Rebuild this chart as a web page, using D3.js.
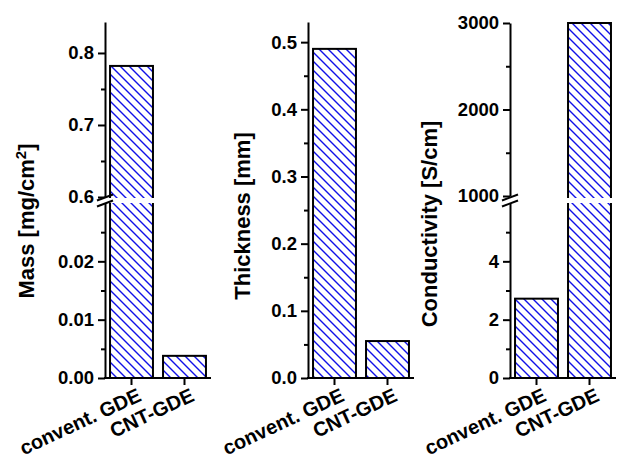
<!DOCTYPE html>
<html>
<head>
<meta charset="utf-8">
<script src="https://cdn.jsdelivr.net/npm/d3@7"></script>
<style>
  body { margin: 0; background: #fff; }
  svg { display: block; }
  text { font-family: "Liberation Sans", Arial, sans-serif; font-weight: bold; fill: #000; }
</style>
</head>
<body>
<div id="chart"></div>
<script>
// categories and values
var categories = ["convent. GDE", "CNT-GDE"];
var massValues = [0.782, 0.0038];
var thicknessValues = [0.49, 0.055];
var conductivityValues = [2.72, 3000];

// tick labels per axis segment
var massTicksLow = [0, 0.01, 0.02];
var massMinorLow = [0.005, 0.015, 0.025];
var massTicksHigh = [0.6, 0.7, 0.8];
var massMinorHigh = [0.65, 0.75];
var thickTicks = [0, 0.1, 0.2, 0.3, 0.4, 0.5];
var thickMinor = [0.05, 0.15, 0.25, 0.35, 0.45];
var condTicksLow = [0, 2, 4];
var condMinorLow = [1, 3, 5];
var condTicksHigh = [1000, 2000, 3000];
var condMinorHigh = [1500, 2500];

var W = 617, H = 460, baseY = 378, breakTop = 198, breakBot = 203;

var svg = d3.select("#chart").append("svg")
    .attr("width", W).attr("height", H);

var defs = svg.append("defs");
var pat = defs.append("pattern")
    .attr("id", "hatch")
    .attr("patternUnits", "userSpaceOnUse")
    .attr("width", 9).attr("height", 9);
pat.append("rect").attr("width", 9).attr("height", 9).attr("fill", "#fff");
pat.append("path")
    .attr("d", "M0,0 L9,9 M-2,7 L2,11 M7,-2 L11,2")
    .attr("stroke", "#1010e8")
    .attr("stroke-width", 1.4);

function drawPanel(p){
    var g = svg.append("g");

    var x = d3.scaleBand()
        .domain(categories)
        .range([p.axisX, p.axisX + 106])
        .paddingInner(0.19)
        .paddingOuter(0.095);

    // build a linear scale for every segment of the (possibly broken) axis
    p.segments.forEach(function(s){
        s.scale = d3.scaleLinear().domain(s.domain).range(s.range);
    });

    function segFor(v){
        var seg = p.segments[0];
        p.segments.forEach(function(s){ if (v >= s.domain[0]) seg = s; });
        return seg;
    }

    // bars
    p.values.forEach(function(v, i){
        var seg = segFor(v);
        var y = seg.scale(v);
        g.append("rect")
            .attr("x", x(categories[i]))
            .attr("y", y)
            .attr("width", x.bandwidth())
            .attr("height", baseY - y)
            .attr("fill", "url(#hatch)")
            .attr("stroke", "#000")
            .attr("stroke-width", 2);
        if (seg !== p.segments[0]){
            g.append("rect")
                .attr("x", x(categories[i]) - 2)
                .attr("y", breakTop)
                .attr("width", x.bandwidth() + 4)
                .attr("height", breakBot - breakTop)
                .attr("fill", "#fff");
        }
    });

    // y axis segments
    p.segments.forEach(function(s){
        var major = d3.axisLeft(s.scale)
            .tickValues(s.ticks)
            .tickSize(7)
            .tickSizeOuter(0)
            .tickPadding(4)
            .tickFormat(d3.format(s.fmt));
        var ga = g.append("g")
            .attr("transform", "translate(" + p.axisX + ",0)")
            .call(major);
        ga.selectAll("text").style("font-size", "18.5px").style("font-family", null);
        ga.selectAll("line").attr("stroke-width", 2);
        ga.select(".domain").attr("stroke-width", 2);

        var minor = d3.axisLeft(s.scale)
            .tickValues(s.minor)
            .tickSize(4)
            .tickSizeOuter(0)
            .tickFormat("");
        var gm = g.append("g")
            .attr("transform", "translate(" + p.axisX + ",0)")
            .call(minor);
        gm.selectAll("line").attr("stroke-width", 2);
        gm.select(".domain").remove();
    });

    // axis break marks
    if (p.segments.length > 1){
        g.append("rect")
            .attr("x", p.axisX - 3).attr("y", breakTop)
            .attr("width", 6).attr("height", breakBot - breakTop)
            .attr("fill", "#fff");
        [breakTop - 0.5, breakBot + 0.5].forEach(function(yy){
            g.append("line")
                .attr("x1", p.axisX - 8).attr("y1", yy + 3)
                .attr("x2", p.axisX + 8).attr("y2", yy - 3)
                .attr("stroke", "#000").attr("stroke-width", 2);
        });
    }

    // x axis
    g.append("line")
        .attr("x1", p.axisX - 1).attr("x2", p.axisX + 106)
        .attr("y1", baseY).attr("y2", baseY)
        .attr("stroke", "#000").attr("stroke-width", 2);

    categories.forEach(function(c){
        var cx = x(c) + x.bandwidth() / 2;
        g.append("line")
            .attr("x1", cx).attr("x2", cx)
            .attr("y1", baseY).attr("y2", baseY + 7)
            .attr("stroke", "#000").attr("stroke-width", 2);
        g.append("text")
            .attr("transform", "translate(" + (cx + 11) + "," + 400 + ") rotate(-25)")
            .attr("text-anchor", "end")
            .style("font-size", "20px")
            .text(c);
    });

    // y axis title
    var t = g.append("text")
        .attr("transform", "translate(" + p.titleX + "," + p.titleY + ") rotate(-90)")
        .attr("text-anchor", "middle")
        .style("font-size", "22px")
        .text(p.title);
    if (p.sup){
        t.append("tspan").attr("dy", -8).style("font-size", "15px").text(p.sup);
        t.append("tspan").attr("dy", 8).text("]");
    }
}

drawPanel({
    axisX: 105, values: massValues,
    title: "Mass [mg/cm", sup: "2", titleX: 34, titleY: 221,
    segments: [
        {domain: [0, 0.03], range: [baseY, breakBot], ticks: massTicksLow, minor: massMinorLow, fmt: ".2f"},
        {domain: [0.6, 0.843], range: [breakTop - 1, 22], ticks: massTicksHigh, minor: massMinorHigh, fmt: ".1f"}
    ]
});

drawPanel({
    axisX: 308, values: thicknessValues,
    title: "Thickness [mm]", titleX: 250, titleY: 216,
    segments: [
        {domain: [0, 0.53], range: [baseY, 22], ticks: thickTicks, minor: thickMinor, fmt: ".1f"}
    ]
});

drawPanel({
    axisX: 510, values: conductivityValues,
    title: "Conductivity [S/cm]", titleX: 437, titleY: 224,
    segments: [
        {domain: [0, 6], range: [baseY, breakBot], ticks: condTicksLow, minor: condMinorLow, fmt: "d"},
        {domain: [1000, 3000], range: [breakTop - 2, 23], ticks: condTicksHigh, minor: condMinorHigh, fmt: "d"}
    ]
});
</script>
</body>
</html>
